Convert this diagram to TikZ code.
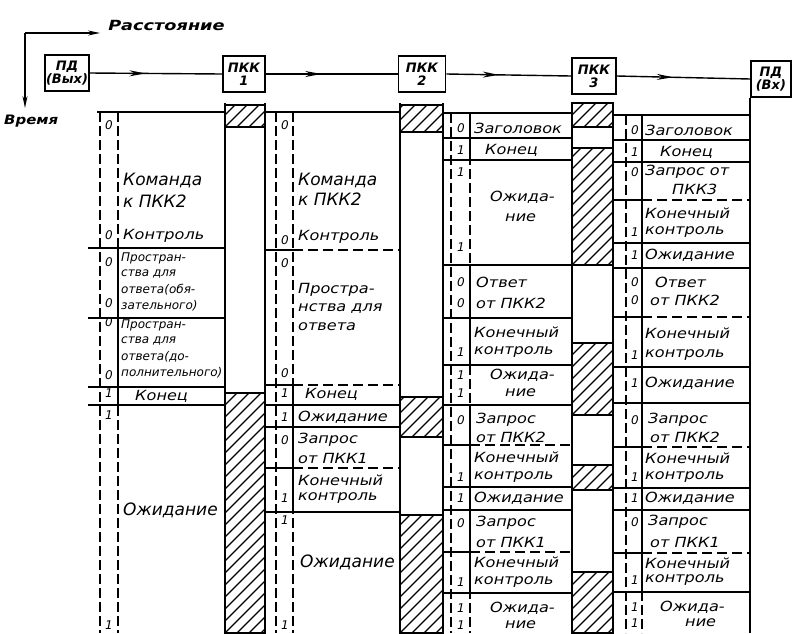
\documentclass[tikz,border=0pt]{standalone}
\usepackage{fontspec}
\setmainfont{DejaVu Sans}
\usepackage{tikz}
\usetikzlibrary{arrows.meta,decorations.markings}
\tikzstyle{station}=[draw,line width=1.7pt,minimum height=36pt,inner sep=1pt,align=center,font=\fontsize{13}{13}\selectfont\itshape\bfseries]
\tikzstyle{link}=[line width=1.4pt,postaction={decorate},decoration={markings,mark=at position 0.42 with {\arrow{Stealth[length=16pt,width=6pt]}}}]
\tikzstyle{axis}=[line width=1.4pt,-{Stealth[length=12pt,width=5pt]}]
\tikzstyle{wire}=[line width=1.6pt]
\tikzstyle{rowline}=[line width=1.4pt]
\tikzstyle{rowdash}=[line width=1.4pt,dash pattern=on 10pt off 5pt]
\tikzstyle{track}=[line width=1.1pt,dash pattern=on 10pt off 4pt]
\tikzstyle{hatchline}=[line width=1.3pt]
\tikzstyle{txt}=[anchor=west,inner sep=0pt,xscale=1.15,font=\fontsize{14}{14}\selectfont\itshape]
\tikzstyle{tiny}=[anchor=west,inner sep=0pt,font=\fontsize{12}{12}\selectfont\itshape]
\tikzstyle{big}=[anchor=west,inner sep=0pt,font=\fontsize{17}{17}\selectfont\itshape]
\tikzstyle{dig}=[inner sep=0pt,font=\fontsize{12}{12}\selectfont\itshape]
\newcommand{\hatchblk}[4]{%
  \begin{scope}
    \clip (#1,#2) rectangle (#3,#4);
    \foreach \k in {0,12,...,360} \draw[hatchline] (#1-300+\k,#4) -- ++(300,-300);
  \end{scope}
  \draw[wire] (#1,#2) rectangle (#3,#4);}

\begin{document}
\begin{tikzpicture}[x=1pt,y=-1pt]
\useasboundingbox (0,0) rectangle (792,633);

\coordinate (org) at (25,33);
\coordinate (orgx) at (100,33);
\coordinate (orgy) at (25,108);
\draw[axis] (org) -- (orgx);
\draw[axis] (org) -- (orgy);
\node[txt,xscale=1.1,font=\fontsize{14}{14}\selectfont\itshape\bfseries] (dist) at (108,25) {Расстояние};
\node[txt,font=\fontsize{13}{13}\selectfont\itshape\bfseries] (time) at (4,121) {Время};

\node[station,minimum width=42pt] (pdout) at (67,73) {ПД\\(Вых)};
\node[station,minimum width=42pt] (pkk1) at (244,74) {ПКК\\1};
\node[station,minimum width=47pt] (pkk2) at (422,74) {ПКК\\2};
\node[station,minimum width=44pt] (pkk3) at (594,76) {ПКК\\3};
\node[station,minimum width=40pt,anchor=west] (pdin) at (750,79) {ПД\\(Вх)};
\draw[link] (pdout.east) -- (pkk1.west);
\draw[link] (pkk1.east) -- (pkk2.west);
\draw[link] (pkk2.east) -- (pkk3.west);
\draw[link] (pkk3.east) -- (pdin.west);

\hatchblk{225}{105}{265}{127}
\hatchblk{225}{393}{265}{633}
\hatchblk{400}{105}{443}{132}
\hatchblk{400}{397}{443}{437}
\hatchblk{400}{515}{443}{633}
\hatchblk{572}{103}{613}{127}
\hatchblk{572}{148}{613}{265}
\hatchblk{572}{343}{613}{415}
\hatchblk{572}{465}{613}{490}
\hatchblk{572}{572}{613}{633}
\foreach \x in {225,265,400,443,572,613} \draw[wire] (\x,103) -- (\x,633);
\draw[wire] (pdin.south west) -- (750,633);

\foreach \x/\t in {100/112,118/112,276/112,293/112,451/113,470/113,626/115,642/115}
  \draw[track] (\x,\t) -- (\x,633);
\draw[rowline] (118,248) -- (118,405);
\draw[rowline] (293,387) -- (293,512);
\draw[rowline] (470,113) -- (470,160) (470,265) -- (470,365) (470,405) -- (470,593);
\draw[rowline] (642,115) -- (642,592);

\draw[rowline] (97,112) -- (225,112);
\foreach \y in {248,318,387,405} \draw[rowline] (88,\y) -- (225,\y);
\foreach \y in {112,405,427,512} \draw[rowline] (265,\y) -- (400,\y);
\foreach \y in {250,385,468} {\draw[rowline] (265,\y) -- (293,\y); \draw[rowdash] (293,\y) -- (400,\y);}
\foreach \y in {113,138,160,265,318,365,405,487,510,593} \draw[rowline] (443,\y) -- (572,\y);
\foreach \y in {445,552} {\draw[rowline] (443,\y) -- (470,\y); \draw[rowdash] (470,\y) -- (572,\y);}
\foreach \y in {115,140,162,243,268,367,403,488,510,592} \draw[rowline] (613,\y) -- (750,\y);
\foreach \y in {200,317,447,553} {\draw[rowline] (613,\y) -- (642,\y); \draw[rowdash] (642,\y) -- (750,\y);}

\node[big] (a1) at (123,180) {Команда};
\node[big] (a2) at (123,201) {к ПКК2};
\node[txt] (a3) at (123,236) {Контроль};
\foreach \y/\t [count=\i] in {258/Простран-,274/ства для,290/ответа(обя-,306/зательного),325/Простран-,341/ства для,357/ответа(до-,373/полнительного)}
  \node[tiny] (ap\i) at (121,\y) {\t};
\node[txt] (a4) at (135,396) {Конец};
\node[big] (a5) at (123,510) {Ожидание};
\foreach \y/\d [count=\i] in {125/0,235/0,262/0,303/0,322/0,375/0,393/1,415/1,625/1}
  \node[dig] (ad\i) at (109,\y) {\d};

\node[big] (b1) at (298,180) {Команда};
\node[big] (b2) at (298,199) {к ПКК2};
\foreach \x/\y/\t [count=\i] in {298/237/Контроль,298/290/Простра-,298/309/нства для,298/327/ответа,305/394/Конец,298/417/Ожидание,298/440/Запрос,298/458/от ПКК1,298/480/Конечный,298/498/контроль}
  \node[txt] (b\i) at (\x,\y) {\t};
\node[big] (b0) at (300,562) {Ожидание};
\foreach \y/\d [count=\i] in {125/0,240/0,263/0,373/0,393/1,417/1,440/0,498/1,520/1,625/1}
  \node[dig] (bd\i) at (285,\y) {\d};

\foreach \x/\y/\t [count=\i] in {474/128/Заголовок,485/150/Конец,490/197/Ожида-,505/218/ние,476/282/Ответ,476/303/от ПКК2,474/332/Конечный,474/352/контроль,490/375/Ожида-,505/393/ние,476/420/Запрос,476/437/от ПКК2,474/457/Конечный,474/477/контроль,474/498/Ожидание,476/523/Запрос,476/542/от ПКК1,474/562/Конечный,474/582/контроль,490/608/Ожида-,505/625/ние}
  \node[txt] (c\i) at (\x,\y) {\t};
\foreach \y/\d [count=\i] in {128/0,150/1,172/1,247/1,282/0,303/0,352/1,375/1,393/1,420/0,477/1,498/1,523/0,582/1,608/1,625/1}
  \node[dig] (cd\i) at (461,\y) {\d};

\foreach \x/\y/\t [count=\i] in {645/130/Заголовок,660/152/Конец,645/172/Запрос от,672/189/ПКК3,645/213/Конечный,645/232/контроль,645/255/Ожидание,655/282/Ответ,650/300/от ПКК2,645/333/Конечный,645/355/контроль,645/383/Ожидание,648/420/Запрос,650/437/от ПКК2,645/458/Конечный,645/477/контроль,645/498/Ожидание,648/522/Запрос,650/542/от ПКК1,645/563/Конечный,645/580/контроль,660/607/Ожида-,685/623/ние}
  \node[txt] (d\i) at (\x,\y) {\t};
\foreach \y/\d [count=\i] in {130/0,152/1,172/0,232/1,255/1,282/0,300/0,355/1,383/1,420/0,477/1,498/1,522/0,580/1,607/1,623/1}
  \node[dig] (dd\i) at (635,\y) {\d};
\end{tikzpicture}
\end{document}
